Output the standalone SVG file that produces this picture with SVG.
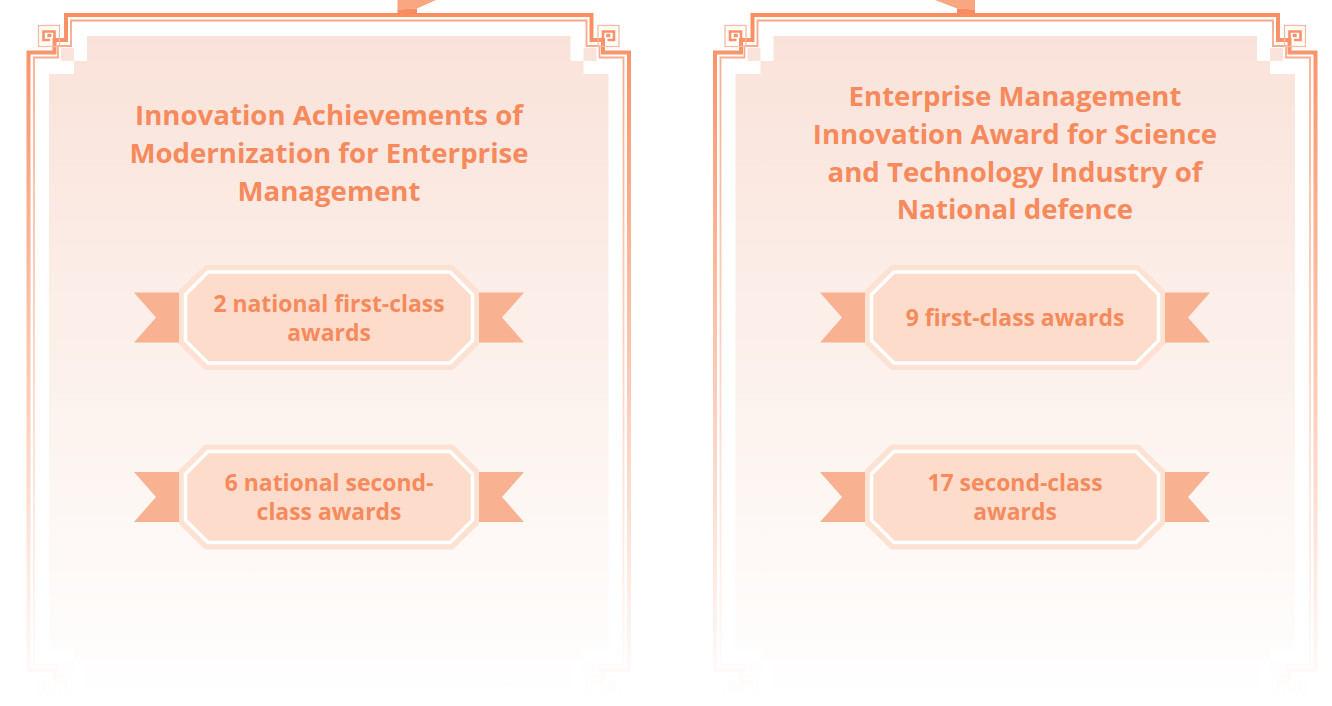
<svg xmlns="http://www.w3.org/2000/svg" xmlns:xlink="http://www.w3.org/1999/xlink" width="1332" height="706" viewBox="0 0 1332 706">
<style>
.thick{fill:none;stroke:#f98c5f;stroke-width:4;stroke-linejoin:miter}
.thin{fill:none;stroke:#fba584;stroke-width:1.8}
.ring{fill:none;stroke:#fbb799;stroke-width:1.3}
.spr{fill:none;stroke:#f98c5f;stroke-width:2.6}
.dot{fill:#f98c5f}
.fill{fill:#f9e1d7}
.title{font-family:"Open Sans","Liberation Sans",sans-serif;font-weight:700;font-size:27.6px;fill:#f68a5c;text-anchor:middle}
.btxt{font-family:"Open Sans","Liberation Sans",sans-serif;font-weight:700;font-size:22.9px;fill:#f68a5c;text-anchor:middle}
.tail{fill:#f9b291}
.oct{fill:#fde1d2}
.inoct{fill:#fddccb;stroke:#ffffff;stroke-width:3.5}
.tabL{fill:#f9a780}
.tabD{fill:#f88c5e}
</style>
<defs>
<linearGradient id="fadeGrad" gradientUnits="userSpaceOnUse" x1="0" y1="0" x2="0" y2="700">
<stop offset="0" stop-color="#fff"/>
<stop offset="1" stop-color="#000"/>
</linearGradient>
<mask id="fade" maskUnits="userSpaceOnUse" x="0" y="0" width="1332" height="706">
<rect x="0" y="0" width="1332" height="706" fill="url(#fadeGrad)"/>
</mask>
<g id="sp">
<rect class="ring" x="38.5" y="25.5" width="21" height="21"/>
<path class="spr" d="M54.5,40 V31.5 H43.5 V40 H50"/>
<rect class="dot" x="47.3" y="33.8" width="4" height="3.4"/>
</g>
<g id="frame">
<path class="fill" d="M87,36 H570.5 V61 H583.5 V74 H608.5 V648.5 H583.5 V661.5 H570.5 V686.5 H87 V661.5 H74 V648.5 H49 V74 H74 V61 H87 Z"/>
<rect class="fill" x="61" y="48" width="13" height="13"/>
<rect class="fill" x="583.5" y="48" width="13" height="13"/>
<rect class="fill" x="61" y="661.5" width="13" height="13"/>
<rect class="fill" x="583.5" y="661.5" width="13" height="13"/>
<path class="thin" d="M586.5,20.5 H71 V46 H58 V57.5 H34 V665 H58 V676.5 H71 V702 H586.5 V676.5 H599.5 V665 H623.5 V57.5 H599.5 V46 H586.5 Z"/>
<path class="thick" d="M66,707.5 V682.5 H54.5 V670 H28.5 V52.5 H54.5 V40 H66 V15 H591.5 V40 H603 V52.5 H629 V670 H603 V682.5 H591.5 V707.5"/>
<use xlink:href="#sp"/>
<use xlink:href="#sp" transform="matrix(-1 0 0 1 657.5 0)"/>
<use xlink:href="#sp" transform="matrix(1 0 0 -1 0 722.5)"/>
<use xlink:href="#sp" transform="matrix(-1 0 0 -1 657.5 722.5)"/>
</g>
<g id="badgeShape">
<polygon class="tail" points="-195,-25 -148,-25 -148,25 -195,25 -173,0"/>
<polygon class="tail" points="195,-25 148,-25 148,25 195,25 173,0"/>
<polygon class="oct" points="-124,-52.5 124,-52.5 150,-27 150,27 124,52.5 -124,52.5 -150,27 -150,-27"/>
<polygon class="inoct" points="-121,-45.5 121,-45.5 143.5,-23 143.5,23 121,45.5 -121,45.5 -143.5,23 -143.5,-23"/>
</g>
</defs>

<g id="tabs">
<polygon class="tabL" points="397.5,0 436,0 417,8.5 397.5,9.5"/>
<polygon class="tabD" points="397.5,9.5 417,8.5 417,14 397.5,14"/>
<polygon class="tabL" points="975,0 935,0 957,8.5 975,9.5"/>
<polygon class="tabD" points="975,9.5 957,8.5 957,14 975,14"/>
</g>

<g id="panel-left">
<g mask="url(#fade)"><use xlink:href="#frame"/></g>
<text class="title" x="329" y="124.5">Innovation Achievements of</text>
<text class="title" x="329" y="162.5">Modernization for Enterprise</text>
<text class="title" x="329" y="200.5">Management</text>
</g>

<g id="panel-right">
<g mask="url(#fade)"><use xlink:href="#frame" transform="translate(686.5 0)"/></g>
<text class="title" x="1015" y="106">Enterprise Management</text>
<text class="title" x="1015" y="144">Innovation Award for Science</text>
<text class="title" x="1015" y="181.5">and Technology Industry of</text>
<text class="title" x="1015" y="219">National defence</text>
</g>

<g id="badge-left-1" transform="translate(329 317.5)">
<use xlink:href="#badgeShape"/>
<text class="btxt" x="0" y="-6">2 national first-class</text>
<text class="btxt" x="0" y="23">awards</text>
</g>
<g id="badge-left-2" transform="translate(329 497)">
<use xlink:href="#badgeShape"/>
<text class="btxt" x="0" y="-6">6 national second-</text>
<text class="btxt" x="0" y="23">class awards</text>
</g>
<g id="badge-right-1" transform="translate(1015 317.5)">
<use xlink:href="#badgeShape"/>
<text class="btxt" x="0" y="8.5">9 first-class awards</text>
</g>
<g id="badge-right-2" transform="translate(1015 497)">
<use xlink:href="#badgeShape"/>
<text class="btxt" x="0" y="-6">17 second-class</text>
<text class="btxt" x="0" y="23">awards</text>
</g>
<g id="connectors"/>
</svg>
